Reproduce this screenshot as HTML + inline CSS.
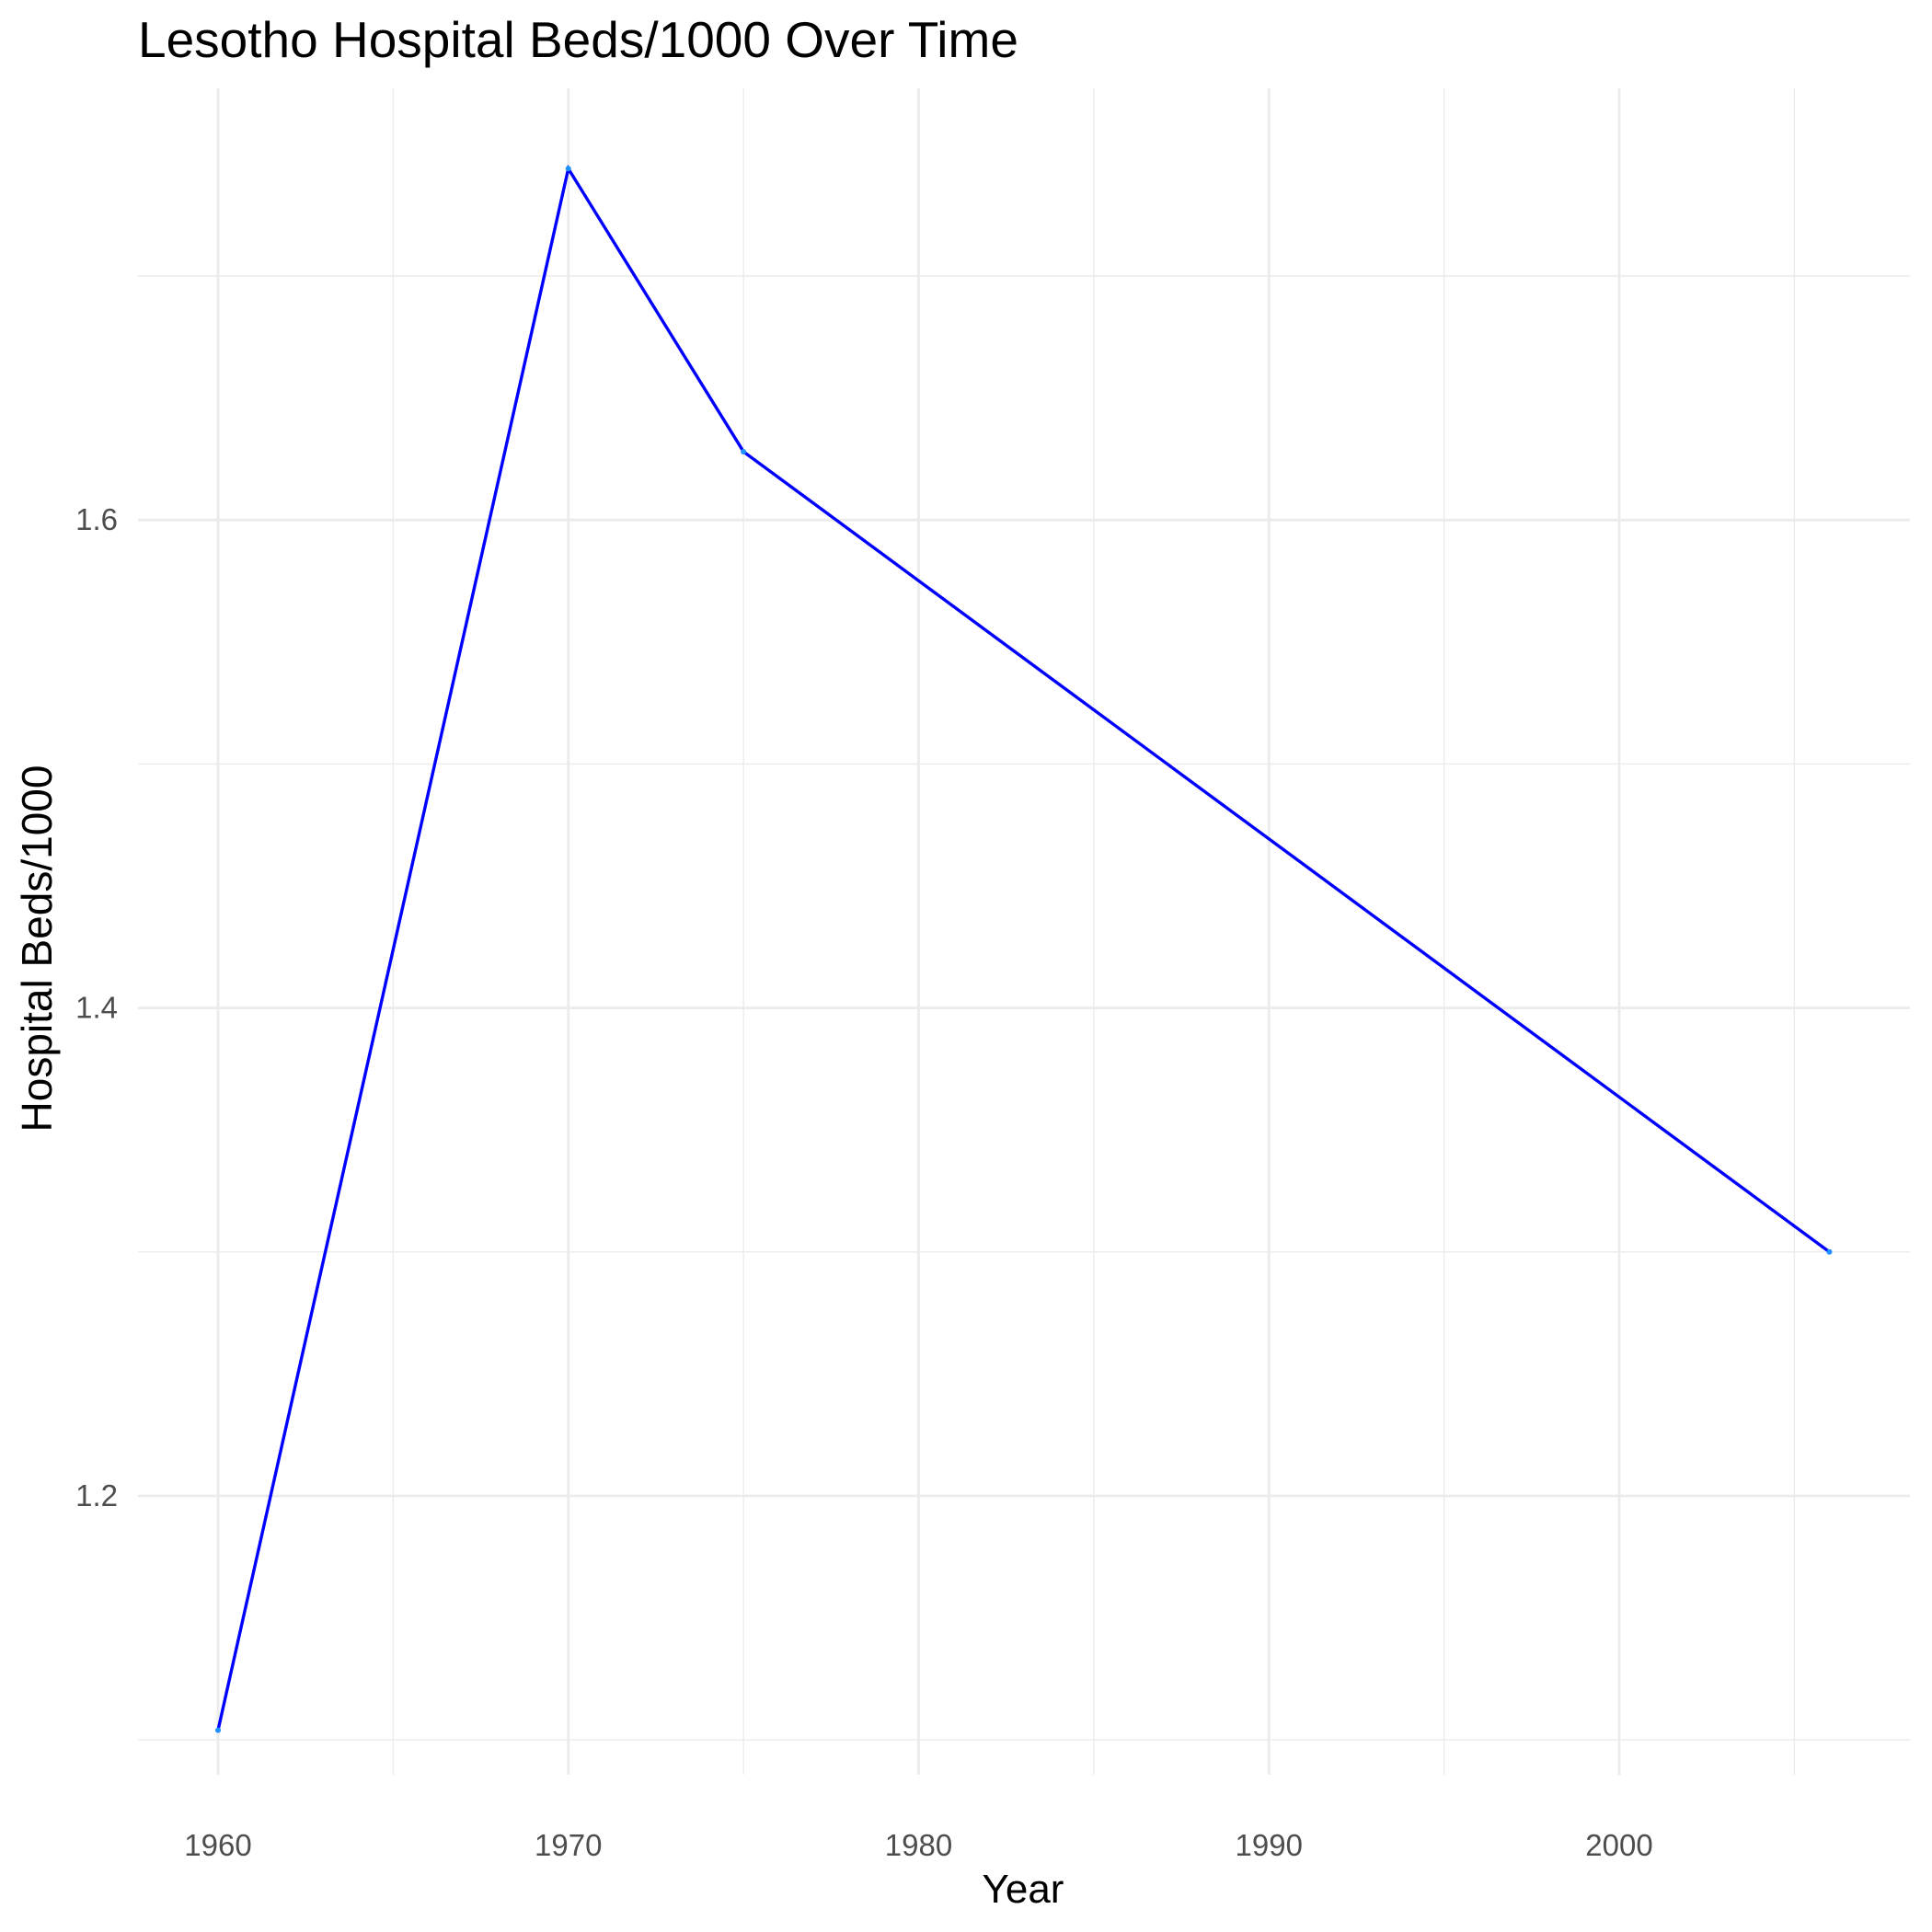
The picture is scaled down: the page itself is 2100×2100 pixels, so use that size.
<!DOCTYPE html>
<html><head><meta charset="utf-8"><style>
html,body{margin:0;padding:0;background:#fff;}
svg{display:block;font-family:"Liberation Sans",Arial,sans-serif;}
</style></head><body>
<svg id="chart" width="2100" height="2100" viewBox="0 0 2100 2100" xmlns="http://www.w3.org/2000/svg">
<text x="150" y="62" font-size="55" fill="#000">Lesotho Hospital Beds/1000 Over Time</text>
<g id="grid"></g>
<g id="ticks"></g>
<g id="series"></g>
<text x="1112" y="2068" font-size="44" text-anchor="middle" fill="#000">Year</text>
<text transform="translate(56,1031) rotate(-90)" font-size="46" text-anchor="middle" fill="#000">Hospital Beds/1000</text>
</svg>
<script>
const years = [1960, 1970, 1975, 2006];
const beds = [1.104, 1.744, 1.628, 1.3];
const xTicks = [1960, 1970, 1980, 1990, 2000];
const xMinor = [1965, 1975, 1985, 1995, 2005];
const yTicks = [1.2, 1.4, 1.6];
const yMinor = [1.1, 1.3, 1.5, 1.7];

const L=150,R=2076,T=96,B=1929;
function xs(v){return 237+(v-1960)*(1760-237)/40;}
function ys(v){return 1626-(v-1.2)*(1626-565.2)/0.4;}
const NS="http://www.w3.org/2000/svg";
function mk(tag,attrs,parent){const e=document.createElementNS(NS,tag);for(const k in attrs)e.setAttribute(k,attrs[k]);parent.appendChild(e);return e;}
const grid=document.getElementById('grid'),ticks=document.getElementById('ticks'),series=document.getElementById('series');
yMinor.forEach(v=>{const l=mk('line',{x1:L,x2:R,y1:ys(v),y2:ys(v),stroke:'#ebebeb','stroke-width':1.4},grid);

});
xMinor.forEach(v=>{const l=mk('line',{x1:xs(v),x2:xs(v),y1:T,y2:B,stroke:'#ebebeb','stroke-width':1.4},grid);

});
yTicks.forEach(v=>{const l=mk('line',{x1:L,x2:R,y1:ys(v),y2:ys(v),stroke:'#ebebeb','stroke-width':2.8},grid);


const t=mk('text',{x:128,y:ys(v)+11,'font-size':33,'text-anchor':'end',fill:'#4d4d4d'},ticks);t.textContent=v.toFixed(1);

});
xTicks.forEach(v=>{const l=mk('line',{x1:xs(v),x2:xs(v),y1:T,y2:B,stroke:'#ebebeb','stroke-width':2.8},grid);


const t=mk('text',{x:xs(v),y:2017,'font-size':33,'text-anchor':'middle',fill:'#4d4d4d'},ticks);t.textContent=v;

});
const p=mk('polyline',{points:years.map((y,i)=>xs(y)+','+ys(beds[i])).join(' '),fill:'none',stroke:'#0000ff','stroke-width':3.4},series);


years.forEach((y,i)=>{const c=mk('circle',{cx:xs(y),cy:ys(beds[i]),r:3,fill:'#1e90ff'},series);

});
</script>
</body></html>
